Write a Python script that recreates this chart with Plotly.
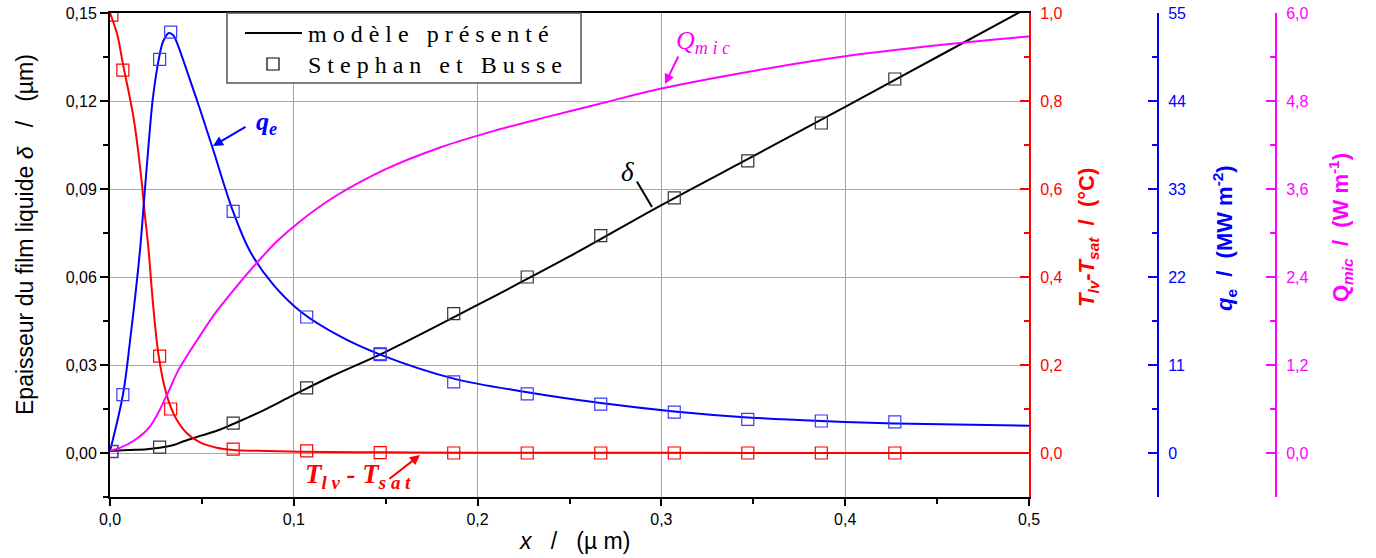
import plotly.graph_objects as go

# ---------------- data ----------------
# model curves
delta_x = [0, 0.01, 0.02, 0.027, 0.035, 0.04, 0.05, 0.06, 0.067, 0.08, 0.1, 0.12, 0.15, 0.2, 0.25, 0.3, 0.35, 0.4, 0.45, 0.5]
delta_y = [0.0007, 0.001, 0.0013, 0.0018, 0.0028, 0.004, 0.006, 0.008, 0.0099, 0.0135, 0.0198, 0.026, 0.0345, 0.0505, 0.067, 0.0845, 0.1012, 0.118, 0.135, 0.152]

temp_x = [0, 0.004, 0.007, 0.0125, 0.0152, 0.0174, 0.019, 0.0208, 0.0236, 0.0265, 0.03, 0.033, 0.0364, 0.0418, 0.049, 0.058, 0.067, 0.08, 0.103, 0.15, 0.2, 0.3, 0.5]
temp_y = [1.0, 0.95, 0.885, 0.77, 0.69, 0.61, 0.54, 0.47, 0.33, 0.22, 0.145, 0.105, 0.075, 0.045, 0.024, 0.012, 0.007, 0.005, 0.003, 0.0015, 0.0008, 0.0003, 0.0]

qe_x = [0, 0.007, 0.0109, 0.0163, 0.0185, 0.0217, 0.0234, 0.0266, 0.029, 0.0321, 0.0345, 0.0364, 0.0418, 0.0489, 0.056, 0.0668, 0.0761, 0.0886, 0.1033, 0.125, 0.147, 0.187, 0.227, 0.267, 0.307, 0.347, 0.387, 0.427, 0.5]
qe_y = [0.25, 7.25, 14.0, 25.3, 31.5, 40.5, 44.5, 49.3, 51.5, 52.5, 52.2, 51.3, 47.8, 43.0, 38.0, 30.3, 25.25, 21.1, 17.75, 14.6, 12.3, 9.3, 7.6, 6.25, 5.2, 4.45, 4.0, 3.7, 3.4]

qmic_x = [0, 0.0054, 0.0125, 0.0217, 0.0315, 0.037, 0.049, 0.058, 0.0745, 0.083, 0.091, 0.103, 0.12, 0.15, 0.18, 0.21, 0.239, 0.266, 0.3, 0.35, 0.4, 0.466, 0.5]
qmic_y = [0.03, 0.07, 0.16, 0.36, 0.82, 1.12, 1.6, 1.93, 2.44, 2.68, 2.89, 3.15, 3.46, 3.87, 4.17, 4.4, 4.59, 4.76, 4.97, 5.21, 5.41, 5.6, 5.68]

# Stephan et Busse points
sb_delta_x = [0.001, 0.027, 0.067, 0.107, 0.147, 0.187, 0.227, 0.267, 0.307, 0.347, 0.387, 0.427]
sb_delta_y = [0.0005, 0.002, 0.0102, 0.0222, 0.0338, 0.0475, 0.060, 0.0741, 0.087, 0.0996, 0.1125, 0.1275]

sb_x = [0.001, 0.007, 0.027, 0.033, 0.067, 0.107, 0.147, 0.187, 0.227, 0.267, 0.307, 0.347, 0.387, 0.427]
sb_temp_y = [0.995, 0.87, 0.22, 0.10, 0.009, 0.005, 0.001, 0.0, 0.0, 0.0, 0.0, 0.0, 0.0, 0.0]
sb_qe_y = [0.2, 7.3, 49.2, 52.6, 30.2, 17.0, 12.3, 8.9, 7.4, 6.1, 5.1, 4.2, 4.0, 3.9]

x_ticks = [0, 0.1, 0.2, 0.3, 0.4, 0.5]

# ---------------- layout geometry ----------------
W, H = 1376, 558
ML, MR, MT, MB = 110, 10, 13, 61
PW = W - ML - MR
PH = H - MT - MB
PLOT_RIGHT = 1029
BLUE_AX = 1158
MAG_AX = 1276


def px(xp):
    return (xp - ML) / PW


def py(yp):
    return (H - MB - yp) / PH


SANS = "Arial, Liberation Sans, sans-serif"
SERIF = "Times New Roman, Liberation Serif, serif"
RED = "#ff0000"
BLUE = "#0000ff"
MAG = "#ff00ff"

fig = go.Figure()

line_kw = dict(width=2, shape="spline", smoothing=1.0)
fig.add_trace(go.Scatter(x=delta_x, y=delta_y, mode="lines", line=dict(color="black", **line_kw), yaxis="y"))
fig.add_trace(go.Scatter(x=qmic_x, y=qmic_y, mode="lines", line=dict(color=MAG, **line_kw), yaxis="y4"))
fig.add_trace(go.Scatter(x=qe_x, y=qe_y, mode="lines", line=dict(color=BLUE, **line_kw), yaxis="y3"))
fig.add_trace(go.Scatter(x=temp_x, y=temp_y, mode="lines", line=dict(color=RED, **line_kw), yaxis="y2"))

msym = dict(symbol="square-open", size=12)
fig.add_trace(go.Scatter(x=sb_delta_x, y=sb_delta_y, mode="markers", marker=dict(**msym, color="#333333", line=dict(width=1.2)), yaxis="y"))
fig.add_trace(go.Scatter(x=sb_x, y=sb_qe_y, mode="markers", marker=dict(**msym, color="#3a3aff", line=dict(width=1.2)), yaxis="y3"))
fig.add_trace(go.Scatter(x=sb_x, y=sb_temp_y, mode="markers", marker=dict(**msym, color=RED, line=dict(width=1.2)), yaxis="y2"))

tickfont = dict(family=SANS, size=16)
dom_end = px(PLOT_RIGHT)

fig.update_layout(
    width=W, height=H,
    margin=dict(l=ML, r=MR, t=MT, b=MB, autoexpand=False),
    paper_bgcolor="white", plot_bgcolor="white",
    separators=", ",
    showlegend=False,
    xaxis=dict(domain=[0, dom_end], range=[0, 0.5], tickvals=x_ticks, tickformat=".1f", automargin=False,
               showgrid=True, gridcolor="#a6a6a6", gridwidth=1, zeroline=False,
               showline=True, linecolor="black", linewidth=2, mirror=True,
               ticks="outside", ticklen=7, tickwidth=1.5, tickcolor="black",
               minor=dict(dtick=0.05, ticks="outside", ticklen=5, tickwidth=1.5, tickcolor="black", showgrid=False),
               tickfont=dict(tickfont, color="black")),
    yaxis=dict(range=[-0.015, 0.15], dtick=0.03, tick0=0, tickformat=".2f", automargin=False,
               showgrid=True, gridcolor="#a6a6a6", gridwidth=1, zeroline=False,
               showline=True, linecolor="black", linewidth=2,
               ticks="outside", ticklen=8, tickwidth=1.5, tickcolor="black",
               minor=dict(dtick=0.015, ticks="outside", ticklen=5, tickwidth=1.5, tickcolor="black", showgrid=False),
               tickfont=dict(tickfont, color="black")),
    yaxis2=dict(overlaying="y", side="right", anchor="x", range=[-0.1, 1.0], dtick=0.2, tick0=0, tickformat=".1f", automargin=False,
                showgrid=False, zeroline=False, showline=True, linecolor=RED, linewidth=2,
                ticks="inside", ticklen=9, tickwidth=1.5, tickcolor=RED, ticklabelstandoff=6,
                minor=dict(dtick=0.1, ticks="inside", ticklen=5, tickwidth=1.5, tickcolor=RED),
                tickfont=dict(tickfont, color=RED)),
    yaxis3=dict(overlaying="y", side="right", anchor="free", position=px(BLUE_AX), range=[-5.5, 55], dtick=11, tick0=0, automargin=False,
                showgrid=False, zeroline=False, showline=True, linecolor=BLUE, linewidth=2,
                ticks="inside", ticklen=9, tickwidth=1.5, tickcolor=BLUE, ticklabelstandoff=6,
                minor=dict(dtick=5.5, ticks="inside", ticklen=5, tickwidth=1.5, tickcolor=BLUE),
                tickfont=dict(tickfont, color=BLUE)),
    yaxis4=dict(overlaying="y", side="right", anchor="free", position=px(MAG_AX), range=[-0.6, 6.0], dtick=1.2, tick0=0, tickformat=".1f", automargin=False,
                showgrid=False, zeroline=False, showline=True, linecolor=MAG, linewidth=2,
                ticks="inside", ticklen=9, tickwidth=1.5, tickcolor=MAG, ticklabelstandoff=6,
                minor=dict(dtick=0.6, ticks="inside", ticklen=5, tickwidth=1.5, tickcolor=MAG),
                tickfont=dict(tickfont, color=MAG)),
)

ann = []
ann.append(dict(text="Epaisseur du film liquide <i>δ</i>   /   (µm)", x=px(25), y=py(235), textangle=-90,
                font=dict(family=SANS, size=23, color="black")))
ann.append(dict(text="<i>x</i>   /   (µ m)", x=px(574), y=py(541),
                font=dict(family=SANS, size=23, color="black")))
ann.append(dict(text="<b><i>T</i><sub><i>lv</i></sub>-<i>T</i><sub><i>sat</i></sub>  /  (°C)</b>", x=px(1088), y=py(238), textangle=-90,
                font=dict(family=SANS, size=22, color=RED)))
ann.append(dict(text="<b><i>q</i><sub>e</sub>  /  (MW m<sup>-2</sup>)</b>", x=px(1225), y=py(238), textangle=-90,
                font=dict(family=SANS, size=22, color=BLUE)))
ann.append(dict(text="<b>Q<sub><i>mic</i></sub>  /  (W m<sup>-1</sup>)</b>", x=px(1340), y=py(228), textangle=-90,
                font=dict(family=SANS, size=22, color=MAG)))
for a in ann:
    a.update(xref="paper", yref="paper", showarrow=False, xanchor="center", yanchor="middle")

labels = [
    ("<b><i>q<sub>e</sub></i></b>", 254, 123, BLUE, 26),
    ("<i>Q<sub>m i c</sub></i>", 674, 42, MAG, 26),
    ("<i>δ</i>", 619, 172, "black", 27),
    ("<b><i>T<sub>l v</sub> - T<sub>s a t</sub></i></b>", 303, 476, RED, 27),
]
for t, xx, yy, c, s in labels:
    ann.append(dict(text=t, xref="paper", yref="paper", x=px(xx), y=py(yy), xanchor="left", yanchor="middle",
                    showarrow=False, font=dict(family=SERIF, size=s, color=c)))

arrows = [
    ((213, 146), (247, 126), BLUE, 2),
    ((665, 84), (679, 55), MAG, 2),
    ((652, 207), (636, 180), "black", 0),
    ((420, 455), (388, 480), RED, 2),
]
for (hx, hy), (tx, ty), c, head in arrows:
    ann.append(dict(text="", xref="paper", yref="paper", x=px(hx), y=py(hy), ax=tx - hx, ay=ty - hy,
                    showarrow=True, arrowhead=head, arrowsize=1, arrowwidth=2, arrowcolor=c))

ann.append(dict(text="m o d è l e   p r é s e n t é", xref="paper", yref="paper", x=px(306), y=py(34),
                xanchor="left", yanchor="middle", showarrow=False, font=dict(family=SERIF, size=24, color="black")))
ann.append(dict(text="S t e p h a n   e t   B u s s e", xref="paper", yref="paper", x=px(306), y=py(65),
                xanchor="left", yanchor="middle", showarrow=False, font=dict(family=SERIF, size=24, color="black")))
fig.update_layout(annotations=ann)

shapes = [
    dict(type="rect", xref="paper", yref="paper", x0=px(227), x1=px(581), y0=py(83), y1=py(13),
         line=dict(color="#555555", width=1.5), fillcolor="white", layer="above"),
    dict(type="line", xref="paper", yref="paper", x0=px(245), x1=px(302), y0=py(33), y1=py(33),
         line=dict(color="black", width=2), layer="above"),
    dict(type="rect", xref="paper", yref="paper", x0=px(267), x1=px(279), y0=py(70), y1=py(58),
         line=dict(color="black", width=1.2), fillcolor="rgba(0,0,0,0)", layer="above"),
]
fig.update_layout(shapes=shapes)

fig.write_html("out.html", config={"displayModeBar": False},
               post_script="document.body.style.margin='0';document.body.style.overflow='hidden';")
